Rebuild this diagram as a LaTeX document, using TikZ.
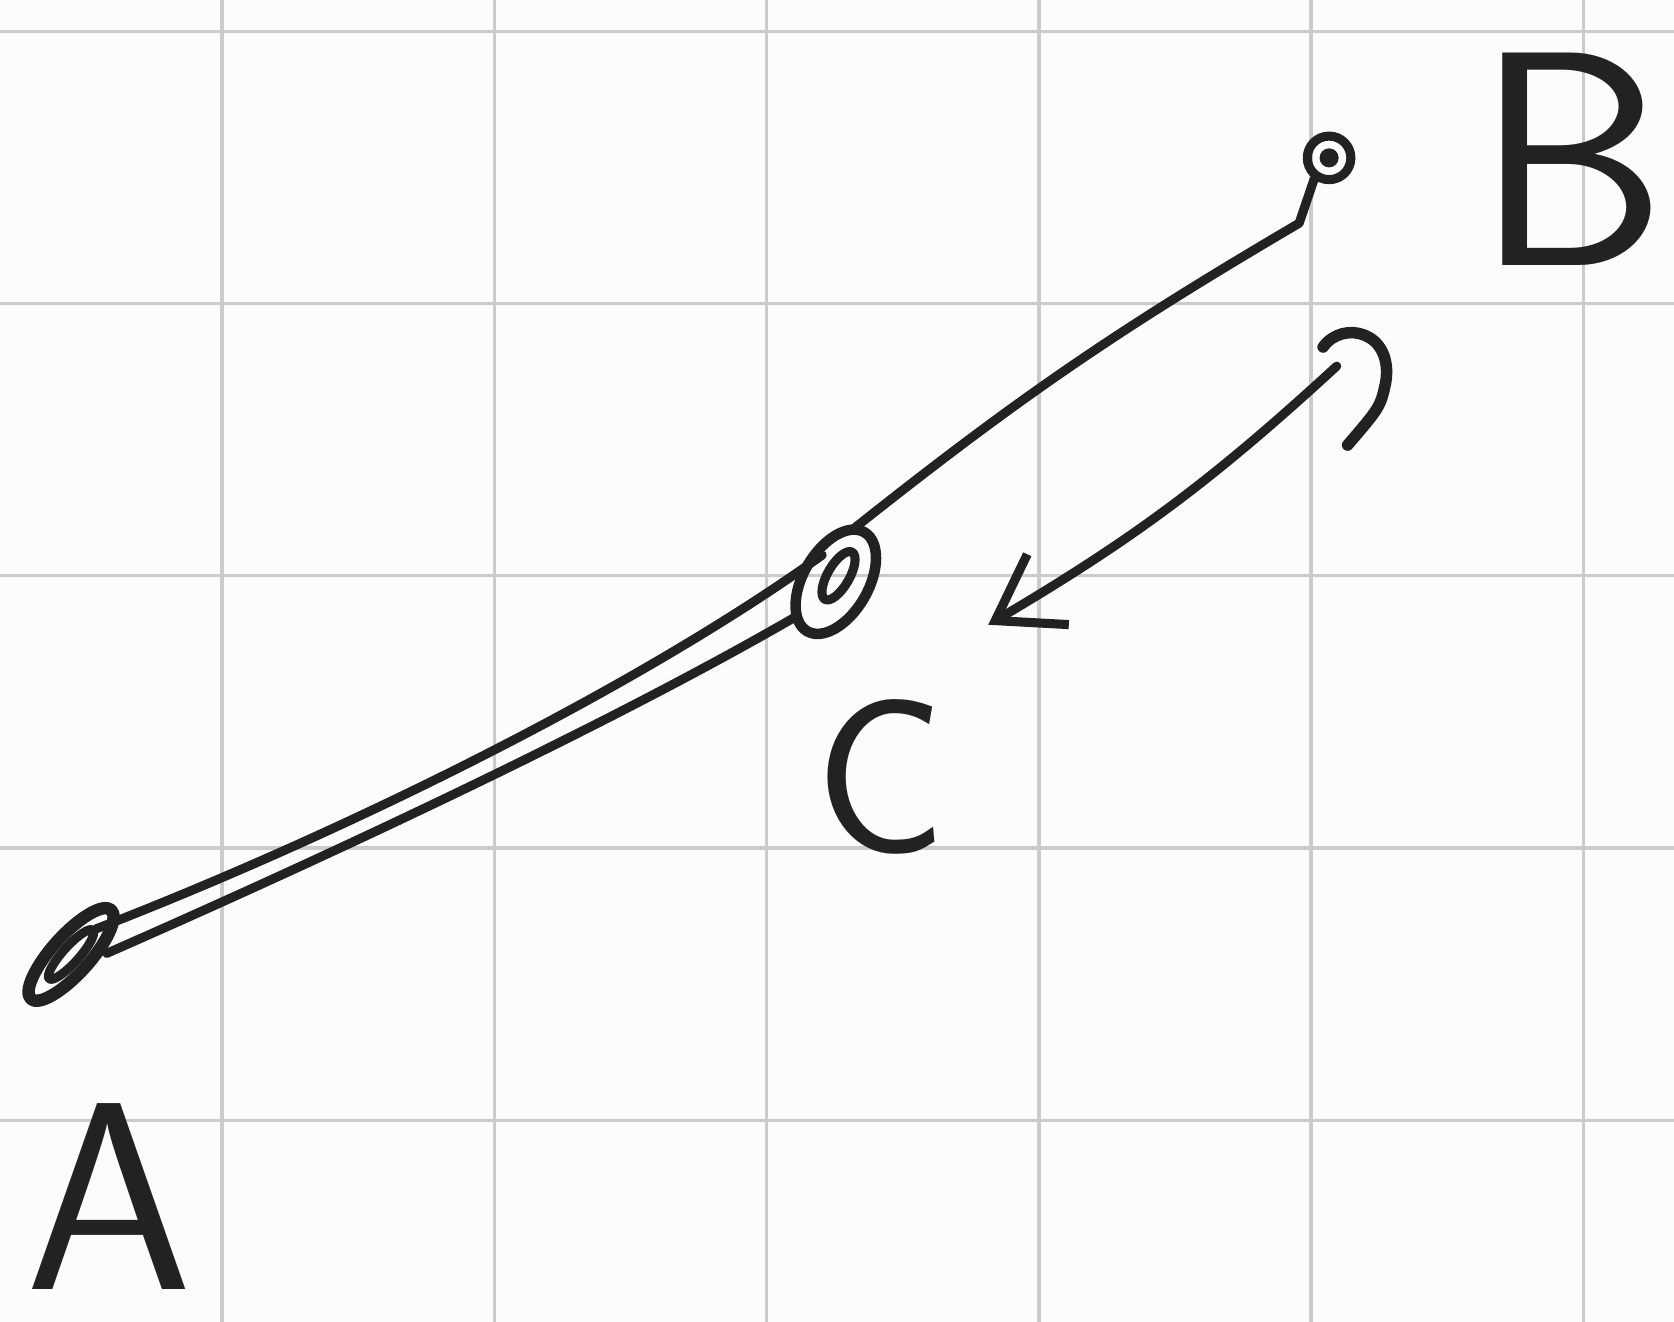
\documentclass[tikz,border=0pt]{standalone}
\usetikzlibrary{arrows.meta}
\definecolor{ink}{HTML}{222222}
\definecolor{gridgray}{HTML}{CBCBCB}
\definecolor{paper}{HTML}{FCFCFC}

\begin{document}
\begin{tikzpicture}[x=2cm, y=2cm, >={Straight Barb[length=4.5mm,width=6mm]},
    pen/.style={draw=ink, line width=1.9pt, line cap=round, line join=round},
    letter/.style={font=\sffamily\fontsize{#1}{#1}\selectfont, text=ink, anchor=base, inner sep=0pt}]
    % paper and grid
    \fill[paper] (0,0) rectangle (6.149,4.855);
    \useasboundingbox (0,0) rectangle (6.149,4.855);
    \foreach \x in {0.816,1.816,...,5.816}{\draw[gridgray, line width=0.7pt] (\x,0) -- (\x,4.855);}
    \foreach \y in {0.74,1.74,...,4.74}{\draw[gridgray, line width=0.7pt] (0,\y) -- (6.149,\y);}
    % points
    \coordinate (A) at (0.261,1.349);
    \coordinate (C) at (3.07,2.718);
    \node[circle, pen, minimum size=0.32cm, inner sep=0pt] (B) at (4.882,4.275) {};
    \draw[pen, line width=2.6pt] (A) ellipse [x radius=0.22, y radius=0.07, rotate=48];
    \draw[pen] (A) ellipse [x radius=0.12, y radius=0.03, rotate=48];
    \draw[pen, line width=2.2pt] (C) ellipse [x radius=0.21, y radius=0.12, rotate=60];
    \draw[pen] (3.08,2.74) ellipse [x radius=0.1, y radius=0.04, rotate=60];
    \fill[ink] (B) circle [radius=0.035];
    % A to C, two strokes
    \coordinate (a1) at (0.353,1.443);
    \coordinate (a2) at (0.392,1.353);
    \coordinate (c1) at (3.02,2.816);
    \coordinate (c2) at (2.92,2.588);
    \draw[pen] (a1) .. controls (1.2,1.77) and (2.3,2.3) .. (c1);
    \draw[pen] (a2) .. controls (1.25,1.73) and (2.25,2.2) .. (c2);
    % C to B
    \coordinate (c3) at (3.137,2.914);
    \coordinate (Bt) at (4.772,4.035);
    \draw[pen] (c3) to[bend left=4] (Bt) -- (B.235);
    % arrow back towards C
    \coordinate (s) at (4.91,3.51);
    \coordinate (t) at (3.63,2.56);
    \draw[pen, ->] (s) to[bend left=6] (t);
    \draw[pen, line width=2.4pt] (4.86,3.58) .. controls (4.93,3.68) and (5.12,3.64) .. (5.09,3.45) .. controls (5.07,3.36) .. (4.95,3.22);
    % labels
    \node[letter=56pt] (labA) at (0.4,0.12) {A};
    \node[letter=64pt] (labB) at (5.77,3.88) {B};
    \node[letter=46pt] (labC) at (3.235,1.725) {C};
\end{tikzpicture}
\end{document}
